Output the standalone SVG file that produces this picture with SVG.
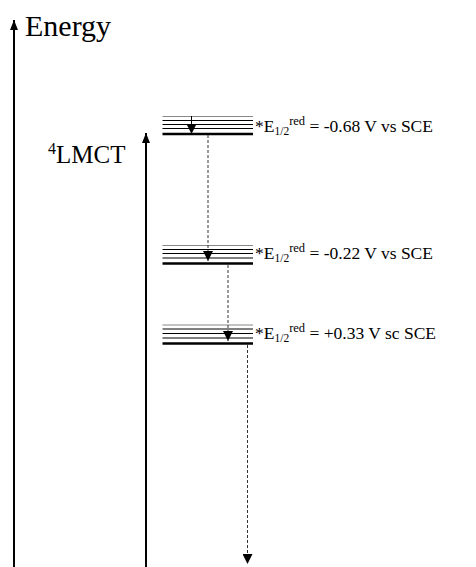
<svg xmlns="http://www.w3.org/2000/svg" width="476" height="567" viewBox="0 0 476 567">
<style>
text{font-family:'Liberation Serif','Times New Roman',serif;fill:#000}
.axis{stroke:#000;stroke-width:2;fill:none}
.lvl{stroke:#000;stroke-width:1}
.lvlg{stroke:#888;stroke-width:1.2}
.lvlt{stroke:#000;stroke-width:2.6}
.dash{stroke:#333;stroke-width:1;stroke-dasharray:3 2;fill:none}
.lab{font-size:17.5px}
.sub{font-size:11.5px}
.sup{font-size:12.5px}
</style>
<defs>
<marker id="ah" viewBox="0 0 10 10" refX="10" refY="5" markerWidth="10" markerHeight="10" markerUnits="userSpaceOnUse" orient="auto"><path d="M0,0L10,5L0,10z" fill="#000"/></marker>
<marker id="axh" viewBox="0 0 10 8" refX="10" refY="4" markerWidth="10" markerHeight="8" markerUnits="userSpaceOnUse" orient="auto"><path d="M0,0L10,4L0,8z" fill="#000"/></marker>
</defs>
<g id="energy-axis">
<line class="axis" x1="14" y1="567" x2="14" y2="20" marker-end="url(#axh)"/>
<text x="25" y="36" font-size="30">Energy</text>
</g>
<g id="lmct-axis">
<line class="axis" x1="146" y1="567" x2="146" y2="133" marker-end="url(#axh)"/>
<text x="48" y="163" font-size="25"><tspan font-size="16" dy="-9">4</tspan><tspan dy="9">LMCT</tspan></text>
</g>
<g id="level1">
<line class="lvlg" x1="162.5" y1="116.5" x2="253" y2="116.5"/>
<line class="lvl" x1="162.5" y1="120.5" x2="253" y2="120.5"/>
<line class="lvl" x1="162.5" y1="124.5" x2="253" y2="124.5"/>
<line class="lvl" x1="162.5" y1="128.5" x2="253" y2="128.5"/>
<line class="lvlt" x1="162.5" y1="134" x2="253" y2="134"/>
<text class="lab" x="255" y="131.5">*E<tspan class="sub" dy="3">1/2</tspan><tspan class="sup" dy="-10">red</tspan><tspan dy="7"> = -0.68 V vs SCE</tspan></text>
</g>
<g id="level2">
<line class="lvlg" x1="162.5" y1="245.5" x2="253" y2="245.5"/>
<line class="lvl" x1="162.5" y1="249.5" x2="253" y2="249.5"/>
<line class="lvl" x1="162.5" y1="253.5" x2="253" y2="253.5"/>
<line class="lvl" x1="162.5" y1="258" x2="253" y2="258"/>
<line class="lvlt" x1="162.5" y1="263.5" x2="253" y2="263.5"/>
<text class="lab" x="255" y="258.5">*E<tspan class="sub" dy="3">1/2</tspan><tspan class="sup" dy="-10">red</tspan><tspan dy="7"> = -0.22 V vs SCE</tspan></text>
</g>
<g id="level3">
<line class="lvlg" x1="162.5" y1="325" x2="253" y2="325"/>
<line class="lvl" x1="162.5" y1="329" x2="253" y2="329"/>
<line class="lvl" x1="162.5" y1="333.5" x2="253" y2="333.5"/>
<line class="lvl" x1="162.5" y1="338" x2="253" y2="338"/>
<line class="lvlt" x1="162.5" y1="343.5" x2="253" y2="343.5"/>
<text class="lab" x="255" y="338.5">*E<tspan class="sub" dy="3">1/2</tspan><tspan class="sup" dy="-10">red</tspan><tspan dy="7"> = +0.33 V sc SCE</tspan></text>
</g>
<g id="connectors">
<line class="lvl" x1="191.5" y1="116" x2="191.5" y2="134" marker-end="url(#ah)"/>
<line class="dash" x1="208" y1="135" x2="208" y2="261" marker-end="url(#ah)"/>
<line class="dash" x1="228" y1="265" x2="228" y2="341" marker-end="url(#ah)"/>
<line class="dash" x1="247.5" y1="345" x2="247.5" y2="564" marker-end="url(#ah)"/>
</g>
</svg>
